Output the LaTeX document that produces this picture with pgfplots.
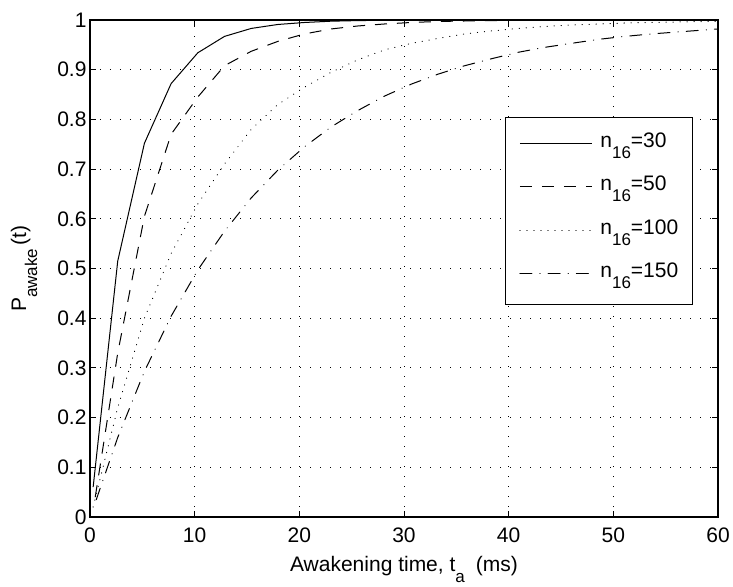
\documentclass[border=0pt]{standalone}
\usepackage{fontspec}
\setmainfont{Liberation Sans}
\usepackage{pgfplots}
\pgfplotsset{compat=1.18}
\usetikzlibrary{calc}
\newcommand{\sub}[2][11pt]{\raisebox{-#1}{\fontsize{17}{17}\selectfont #2}}
\newcommand{\bigf}{\fontsize{21}{25}\selectfont}

\begin{document}
\begin{tikzpicture}
\begin{axis}[
  scale only axis, width=628pt, height=497pt,
  xmin=0, xmax=60, ymin=0, ymax=1,
  xtick={0,10,20,30,40,50,60},
  xticklabels={0,10,20,30,40,50,60},
  ytick={0,0.1,0.2,0.3,0.4,0.5,0.6,0.7,0.8,0.9,1},
  yticklabels={0,0.1,0.2,0.3,0.4,0.5,0.6,0.7,0.8,0.9,1},
  tick label style={font=\bigf},
  xticklabel style={yshift=-7pt},
  tick align=inside,
  major tick length=6pt,
  tick style={black, line width=0.8pt},
  axis line style={black, line width=1.2pt},
  grid=major,
  major grid style={black, line width=0.9pt, dash pattern=on 0.9pt off 9.1pt},
  xlabel={Awakening time, t\sub{a}\hspace{11pt}(ms)},
  ylabel={P\sub{awake}\,(t)},
  label style={font=\bigf},
  xlabel style={at={(axis description cs:0.5,-0.1101)}, anchor=base},
  ylabel style={at={(axis description cs:-0.1019,0.5)}, anchor=base},
  legend style={at={(axis description cs:0.6608,0.8048)}, anchor=north west,
    draw=black, line width=0.8pt, fill=white, font=\bigf,
    inner xsep=14pt, inner ysep=15pt,
    nodes={inner sep=0pt, anchor=base west, text height=15pt, text depth=12pt},
    row sep=16.3pt, column sep=8pt},
  legend image code/.code={\path[draw=none] (0pt,-12pt) rectangle (72pt,15pt); \draw[#1] (0pt,4pt) -- (72pt,4pt);},
]
\addplot[black, line width=1pt] coordinates {
(0.3,0.06) (2.65,0.515) (5.2,0.752) (7.75,0.872) (10.3,0.934) (12.85,0.967)
(15.4,0.983) (17.95,0.991) (20.5,0.995) (23.05,0.9976) (25.6,0.9988)
(28.15,0.9994) (30.7,0.9997) (33.25,0.9999) (35.8,1.0) (60,1.0)};
\addlegendentry{n\sub{16}=30}
\addplot[black, line width=1pt, dash pattern=on 12pt off 10pt] coordinates {
(0.5,0.04) (2.65,0.33) (5.2,0.605) (7.75,0.77) (10.3,0.845) (12.85,0.908)
(15.4,0.937) (17.95,0.957) (20.5,0.972) (23.05,0.982) (25.6,0.988)
(28.15,0.992) (30.7,0.995) (33.25,0.997) (35.8,0.998) (38.35,0.9987)
(40.9,0.9992) (43.45,0.9995) (46,0.9997) (48.55,0.9998) (51.1,0.9999) (60,1.0)};
\addlegendentry{n\sub{16}=50}
\addplot[black, line width=1pt, line cap=round, dash pattern=on 0.3pt off 6.7pt] coordinates {
(0.3,0.02) (2.65,0.22) (5.2,0.4) (7.75,0.53) (10.3,0.63) (12.85,0.71)
(15.4,0.78) (17.95,0.83) (20.5,0.865) (23.05,0.895) (25.6,0.92) (28.15,0.94)
(30.7,0.953) (33.25,0.963) (35.8,0.972) (38.35,0.978) (40.9,0.983)
(43.45,0.987) (46,0.99) (48.55,0.992) (51.1,0.994) (53.65,0.995)
(56.2,0.996) (58.75,0.997) (60,0.9975)};
\addlegendentry{n\sub{16}=100}
\addplot[black, line width=1pt, line cap=round, dash pattern=on 12pt off 8pt on 0.3pt off 8pt] coordinates {
(0.6,0.035) (2.65,0.16) (5.2,0.293) (7.75,0.404) (10.3,0.497) (12.85,0.575)
(15.4,0.642) (17.95,0.698) (20.5,0.745) (23.05,0.785) (25.6,0.818)
(28.15,0.847) (30.7,0.871) (33.25,0.891) (35.8,0.908) (38.35,0.922)
(40.9,0.935) (43.45,0.945) (46,0.953) (48.55,0.961) (51.1,0.967)
(53.65,0.972) (56.2,0.976) (58.75,0.980) (60,0.982)};
\addlegendentry{n\sub{16}=150}
\end{axis}
\pgfresetboundingbox
\path ($(current axis.south west)+(-90pt,-69pt)$) rectangle ($(current axis.north east)+(15pt,20pt)$);
\end{tikzpicture}
\end{document}
